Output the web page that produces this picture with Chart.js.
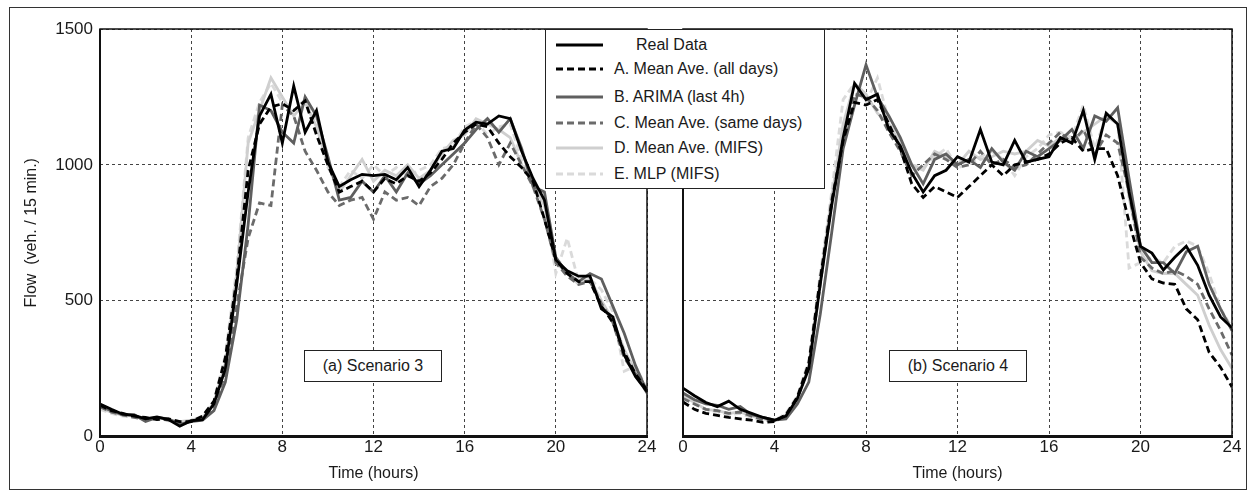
<!DOCTYPE html>
<html>
<head>
<meta charset="utf-8">
<script src="https://cdn.jsdelivr.net/npm/chart.js@4.4.0/dist/chart.umd.min.js"></script>
<style>
  body { margin: 0; background: #fff; }
  #wrap { position: relative; width: 1252px; height: 493px; overflow: hidden;
          font-family: 'Liberation Sans', Arial, sans-serif; color: #1a1a1a; }
  #frame { position: absolute; left: 9px; top: 7px; width: 1238px; height: 483px;
           border: 1.5px solid #333; box-sizing: border-box; }
  .box { position: absolute; }
  .tag { position: absolute; top: 350px; width: 138px; height: 32px; border: 1.5px solid #222;
         box-sizing: border-box; background: #fff; font-size: 16px; line-height: 29px; text-align: center; }
  #legend { position: absolute; left: 545px; top: 29px; width: 280px; height: 160px;
            border: 1.5px solid #222; box-sizing: border-box; background: #fff; }
  .row { position: absolute; left: 0; width: 276px; height: 24px; }
  .row svg { position: absolute; left: 9px; top: 0; }
  .row span { position: absolute; left: 68px; top: 3px; font-size: 16px; white-space: nowrap; }
</style>
</head>
<body>
<div id="wrap">
  <div id="frame"></div>
  <div class="box" style="left:0;top:0;width:660px;height:493px;"><canvas id="left"></canvas></div>
  <div class="box" style="left:660px;top:0;width:592px;height:493px;"><canvas id="right"></canvas></div>
  <div class="tag" style="left:304px;">(a) Scenario 3</div>
  <div class="tag" style="left:889px;">(b) Scenario 4</div>
  <div id="legend"></div>
</div>
<script>
// time of day (hours), sampled every 30 min
const hours = [0,0.5,1,1.5,2,2.5,3,3.5,4,4.5,5,5.5,6,6.5,7,7.5,8,8.5,9,9.5,10,10.5,11,11.5,12,
               12.5,13,13.5,14,14.5,15,15.5,16,16.5,17,17.5,18,18.5,19,19.5,20,20.5,21,21.5,22,22.5,23,23.5,24];
const xTicks = [0, 4, 8, 12, 16, 20, 24];
const yTicks = [0, 500, 1000, 1500];

const seriesNames = ['Real Data', 'A. Mean Ave. (all days)', 'B. ARIMA (last 4h)',
                     'C. Mean Ave. (same days)', 'D. Mean Ave. (MIFS)', 'E. MLP (MIFS)'];

// (a) Scenario 3
const realS3     = [120,100,82,78,65,72,62,38,58,62,120,250,560,900,1180,1260,1080,1290,1120,1200,1010,920,945,965,960,965,945,990,920,980,1050,1060,1128,1157,1150,1180,1170,1050,950,870,650,610,590,590,470,440,300,220,165];
const meanAllS3  = [115,95,85,75,70,62,65,55,55,75,130,290,580,980,1150,1213,1225,1200,1235,1110,1000,900,920,940,900,950,930,960,940,970,1020,1080,1120,1150,1140,1080,1030,990,940,800,650,600,570,570,480,420,310,230,170];
const arimaS3    = [110,95,80,80,55,70,65,45,55,60,95,200,430,780,1220,1200,1120,1080,1250,1180,1030,870,880,940,900,960,900,970,930,960,1000,1040,1080,1130,1170,1120,1170,1060,920,900,660,600,570,600,580,480,380,260,165];
const meanSameS3 = [110,90,80,70,62,70,60,50,55,65,110,230,480,730,860,850,1220,1180,1050,980,900,850,870,880,800,900,870,880,850,920,950,1000,1080,1150,1100,1000,1080,1000,920,800,640,590,560,570,490,420,290,230,160];
const meanMifsS3 = [105,90,78,75,65,70,62,55,60,70,125,270,600,1080,1200,1320,1250,1180,1230,1140,1000,900,960,1020,940,980,960,1000,950,980,1040,1090,1110,1170,1150,1130,1100,1000,930,850,640,600,560,580,500,430,320,240,170];
const mlpS3      = [100,85,75,72,68,65,58,52,58,75,130,300,620,1100,1230,1300,1230,1200,1240,1150,990,920,980,950,1000,960,990,960,980,1000,1060,1070,1140,1160,1110,1140,1150,1020,940,860,600,730,570,580,540,460,240,260,175];

// (b) Scenario 4
const realS4     = [178,150,125,110,130,100,85,70,60,75,140,250,560,850,1100,1300,1240,1260,1130,1070,970,900,960,980,1030,1010,1130,1010,1000,1090,1010,1020,1030,1100,1080,1200,1020,1190,1150,900,700,675,613,660,700,630,520,440,400];
const meanAllS4  = [127,100,85,78,70,65,60,52,55,80,145,270,580,860,1090,1230,1220,1240,1150,1060,930,880,920,900,880,920,960,1000,960,1000,1010,1020,1040,1080,1100,1050,1060,1060,960,790,640,580,565,560,470,430,310,255,182];
const arimaS4    = [160,135,120,115,100,110,80,70,60,65,120,200,450,750,1060,1220,1368,1250,1180,1100,1000,930,1020,1040,1000,1020,990,1060,1010,980,1050,1030,1060,1090,1130,1060,1180,1160,1210,950,700,640,640,600,680,700,560,470,390];
const meanSameS4 = [140,120,100,95,85,90,75,62,58,78,140,260,560,870,1080,1260,1250,1200,1120,1050,960,1000,1040,1020,990,1000,1050,1000,1020,990,1000,1040,1080,1120,1080,1130,1040,1110,1080,900,660,620,600,610,590,560,470,390,300];
const meanMifsS4 = [150,125,100,95,85,90,75,65,60,80,140,260,580,880,1150,1300,1260,1190,1150,1080,1000,980,1050,1030,1000,1050,1020,1030,1050,1040,1050,1090,1070,1100,1090,1120,1150,1180,1150,880,680,610,600,600,560,520,410,320,250];
const mlpS4      = [145,120,100,90,80,85,70,60,58,85,150,280,600,900,1240,1300,1230,1320,1160,1080,1000,990,1030,1060,990,1000,1030,1050,1020,960,1030,1060,1110,1120,1100,1220,1060,1180,1160,620,640,660,640,700,720,700,600,470,400];

const lineStyles = [
  { color: '#000000', dash: [] },
  { color: '#000000', dash: [7, 4] },
  { color: '#5f5f5f', dash: [] },
  { color: '#6b6b6b', dash: [7, 4] },
  { color: '#cfcfcf', dash: [] },
  { color: '#dadada', dash: [7, 4] }
];

const FONT = "'Liberation Sans', Arial, sans-serif";

const framePlugin = {
  id: 'frame',
  afterDatasetsDraw(chart) {
    const { ctx, chartArea: a } = chart;
    ctx.save();
    ctx.strokeStyle = '#111';
    ctx.lineWidth = 1.5;
    ctx.strokeRect(a.left, a.top, a.right - a.left, a.bottom - a.top);
    ctx.lineWidth = 3;
    ctx.beginPath();
    ctx.moveTo(a.left - 1, a.bottom);
    ctx.lineTo(a.right + 1, a.bottom);
    ctx.stroke();
    ctx.lineWidth = 2;
    ctx.beginPath();
    ctx.moveTo(a.left, a.top);
    ctx.lineTo(a.left, a.bottom);
    ctx.stroke();
    ctx.restore();
  }
};

function makeChart(id, series, showY, padRight) {
  const datasets = series.map((vals, i) => ({
    label: seriesNames[i],
    data: hours.map((h, j) => ({ x: h, y: vals[j] })),
    borderColor: lineStyles[i].color,
    borderDash: lineStyles[i].dash,
    borderWidth: 2.8,
    pointRadius: 0,
    tension: 0,
    fill: false
  }));

  return new Chart(document.getElementById(id), {
    type: 'line',
    data: { datasets },
    options: {
      responsive: true,
      maintainAspectRatio: false,
      animation: false,
      layout: { padding: { top: 29, right: padRight, bottom: 10, left: 0 } },
      scales: {
        x: {
          type: 'linear', min: 0, max: 24,
          afterBuildTicks: s => { s.ticks = xTicks.map(v => ({ value: v })); },
          afterFit: s => { s.height = 46.5; },
          ticks: { color: '#1a1a1a', font: { family: FONT, size: 17 }, padding: 1, maxRotation: 0,
                   callback: v => String(v) },
          grid: { color: '#444', lineWidth: 1, drawTicks: false },
          border: { display: false, dash: [3, 3] },
          title: { display: true, text: 'Time (hours)', color: '#1a1a1a',
                   font: { family: FONT, size: 16 }, padding: { top: 0, bottom: 0 } }
        },
        y: {
          min: 0, max: 1500,
          afterBuildTicks: s => { s.ticks = yTicks.map(v => ({ value: v })); },
          afterFit: s => { s.width = showY ? 100 : 23; },
          ticks: { display: showY, color: '#1a1a1a', font: { family: FONT, size: 17 }, padding: 7,
                   callback: v => String(v) },
          grid: { color: '#444', lineWidth: 1, drawTicks: false },
          border: { display: false, dash: [3, 3] },
          title: { display: showY, text: 'Flow  (veh. / 15 min.)', color: '#1a1a1a',
                   font: { family: FONT, size: 16 }, padding: { top: 22, bottom: 0 } }
        }
      },
      plugins: { legend: { display: false }, tooltip: { enabled: false } }
    },
    plugins: [framePlugin]
  });
}

makeChart('left', [realS3, meanAllS3, arimaS3, meanSameS3, meanMifsS3, mlpS3], true, 13);
makeChart('right', [realS4, meanAllS4, arimaS4, meanSameS4, meanMifsS4, mlpS4], false, 20);

// legend spanning both panels
const legend = document.getElementById('legend');
const rowCenters = [15, 39, 67, 93, 118, 144];
seriesNames.forEach((name, i) => {
  const row = document.createElement('div');
  row.className = 'row';
  row.style.top = (rowCenters[i] - 12) + 'px';
  const dash = lineStyles[i].dash.join(' ');
  row.innerHTML =
    '<svg width="50" height="24"><line x1="1" y1="12" x2="48" y2="12" stroke="' + lineStyles[i].color +
    '" stroke-width="3" stroke-dasharray="' + dash + '"/></svg>' +
    '<span style="left:' + (i === 0 ? 90 : 68) + 'px">' + name + '</span>';
  legend.appendChild(row);
});
</script>
</body>
</html>
